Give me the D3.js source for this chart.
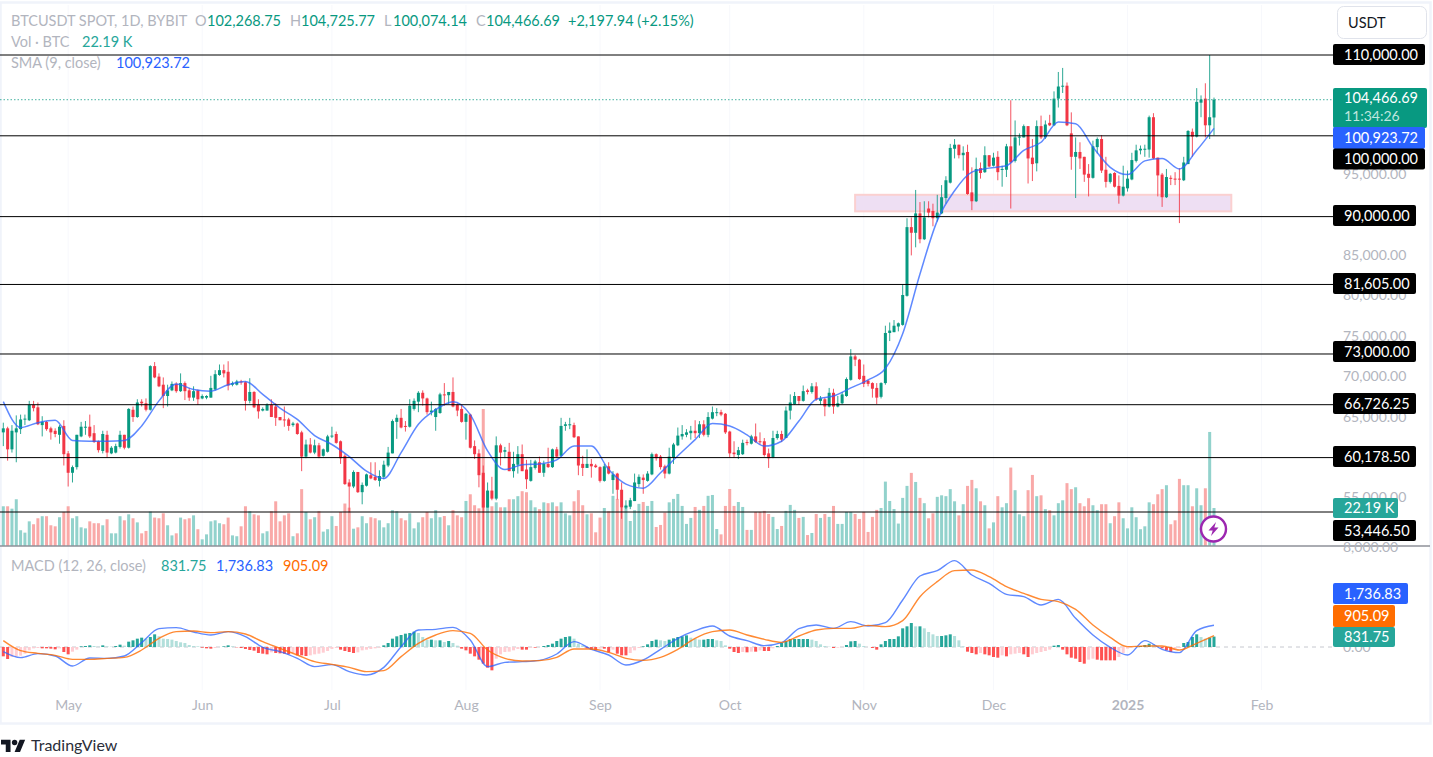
<!DOCTYPE html>
<html><head><meta charset="utf-8">
<script src="https://cdn.jsdelivr.net/npm/d3@7/dist/d3.min.js"></script>
<style>html,body{margin:0;padding:0;background:#fff;overflow:hidden}svg{display:block}text{font-family:Lato,"Open Sans",sans-serif}</style>
</head><body><svg id="c" width="1433" height="757"></svg>
<script>
// Daily candles from 2024-04-16: open, high, low, close (thousand USDT)
const firstDay = "2024-04-16";
const ohlc = [
[63.3,64.5,61.6,63.8],[63.8,64.0,59.8,61.2],[61.2,64.2,60.8,63.5],[63.3,65.4,59.6,63.8],[63.7,65.5,63.1,64.9],[64.9,65.5,64.2,65.0],[64.8,67.2,64.7,66.7],[66.7,67.2,65.9,66.3],[66.4,67.0,64.2,64.3],[64.2,65.3,62.8,64.6],
[64.6,64.7,63.5,63.7],[63.8,64.0,62.4,63.3],[63.5,63.8,62.7,63.1],[63.0,64.2,61.9,64.0],[64.1,64.8,59.2,60.6],[60.7,61.0,56.6,58.3],[58.3,59.2,57.1,59.0],[59.0,63.0,58.7,63.0],[62.8,64.6,62.7,64.0],[63.9,64.7,63.0,64.0],
[64.0,65.5,62.6,62.8],[63.2,64.2,62.0,62.1],[62.2,62.3,60.8,61.1],[61.0,63.5,60.7,63.1],[63.0,63.5,60.2,60.8],[60.7,61.6,60.6,61.4],[60.8,61.9,60.7,61.6],[61.5,63.5,61.3,63.0],[63.0,63.0,61.2,61.4],[61.4,66.3,61.3,66.2],
[66.1,66.5,64.6,65.2],[65.2,67.4,65.1,67.0],[67.1,67.4,66.5,66.9],[66.9,67.5,65.9,66.1],[66.1,71.6,66.0,71.5],[71.5,72.0,70.0,70.1],[70.2,70.6,68.9,69.0],[69.2,70.1,66.3,67.8],[67.8,69.2,66.5,68.5],[68.5,69.6,68.4,69.3],
[69.3,69.5,68.2,68.4],[68.4,70.6,68.3,69.4],[69.4,69.6,67.3,68.4],[68.5,68.8,67.2,67.6],[67.6,69.0,67.2,68.4],[68.5,68.6,66.7,67.4],[67.5,68.0,67.4,67.8],[67.6,67.9,67.4,67.8],[67.6,70.3,67.6,68.8],[68.6,71.0,68.5,70.5],
[70.4,71.7,70.3,71.0],[71.0,71.7,70.1,70.6],[70.8,72.1,68.5,69.1],[69.2,69.6,69.0,69.4],[69.2,69.8,69.1,69.6],[69.6,69.8,69.2,69.5],[69.5,69.6,66.0,67.2],[67.2,70.0,66.9,68.3],[68.3,68.4,66.3,66.4],[66.7,67.4,65.0,65.9],
[66.0,66.4,65.9,66.2],[66.0,66.9,66.0,66.7],[66.7,67.4,65.2,65.2],[66.5,66.9,64.1,65.1],[65.2,65.2,64.8,64.8],[64.9,66.5,64.0,64.8],[64.9,65.1,63.5,64.1],[64.2,64.6,64.0,64.4],[64.4,64.5,63.0,63.1],
[63.3,63.5,58.5,60.3],[60.3,62.4,60.1,61.8],[61.8,62.6,60.7,60.8],[60.8,62.4,60.6,61.7],[61.7,62.0,60.1,60.3],[60.4,61.3,60.3,61.2],[60.9,63.0,60.8,62.8],[62.8,64.0,62.6,62.9],[63.1,63.4,61.9,62.0],[62.2,62.3,59.4,60.1],
[60.4,60.6,56.8,56.9],[57.1,57.5,53.4,56.6],[56.6,58.6,56.4,58.4],[58.4,58.4,55.8,55.9],[55.9,57.1,54.4,56.8],[56.7,58.2,56.6,58.1],[58.0,59.6,57.5,57.6],[57.8,59.6,57.3,57.4],[57.3,58.6,56.6,57.9],[57.8,59.8,57.5,59.3],
[59.2,61.5,59.0,60.8],[60.7,64.9,60.7,64.7],[64.6,65.5,62.5,65.1],[65.1,66.2,63.8,63.9],[64.1,64.7,63.4,64.0],[64.0,67.4,63.9,66.6],[66.2,67.5,66.0,67.2],[67.1,68.4,65.8,68.2],[68.2,68.5,66.6,67.5],[67.5,67.6,65.5,65.8],
[65.8,67.1,65.4,66.0],[65.2,66.3,63.5,66.2],[65.7,68.2,65.6,68.0],[68.0,69.4,66.6,67.9],[67.9,68.3,66.8,68.3],[68.3,70.1,66.4,66.5],[66.7,66.9,65.3,66.0],[66.2,66.7,64.5,64.6],[64.6,65.7,62.4,65.6],[65.5,65.6,61.3,61.4],
[61.6,62.3,60.0,60.6],[60.7,61.2,56.5,58.0],[58.3,59.2,49.2,54.0],[54.0,57.1,54.0,56.1],[56.1,57.8,54.9,55.1],[55.1,62.8,54.9,61.7],[61.7,61.9,59.2,60.8],[60.9,61.5,60.1,61.1],[60.9,62.0,58.5,58.5],[58.5,60.9,57.7,59.4],
[59.3,61.6,58.2,60.6],[60.6,61.8,58.5,58.5],[58.7,59.9,56.3,57.5],[57.3,59.9,57.2,59.0],[58.9,59.9,58.7,59.7],[59.6,60.3,58.3,58.3],[58.3,59.8,57.8,59.4],[59.4,61.4,58.9,59.0],[59.0,61.3,58.9,61.2],[61.2,61.5,60.1,60.3],
[60.4,65.1,60.3,64.1],[64.1,64.6,63.5,64.3],[64.2,65.1,63.7,64.3],[64.2,64.5,62.6,62.7],[62.8,62.8,58.0,59.2],[59.4,60.4,57.9,58.9],[58.9,61.2,58.9,59.4],[59.4,60.0,57.7,59.1],[59.2,59.4,58.9,59.0],
[59.0,59.1,57.1,57.3],[57.3,59.4,57.2,59.1],[59.1,59.6,58.1,58.2],[57.4,58.5,55.7,58.1],[58.2,58.3,55.0,56.2],[56.2,57.1,52.6,54.0],[54.0,54.9,53.8,54.2],[54.1,55.2,53.8,54.9],[54.8,58.2,54.8,57.1],[56.9,58.1,56.5,57.8],
[57.7,58.1,55.7,57.4],[57.3,58.5,57.2,58.2],[58.1,60.8,58.0,60.6],[60.6,60.7,59.8,60.1],[60.3,60.5,58.7,59.0],[59.1,59.3,57.6,58.2],[58.2,61.4,58.1,60.3],[60.2,62.0,59.4,61.8],[61.7,63.9,61.6,62.9],[62.8,64.2,62.4,63.1],
[63.0,63.7,62.7,63.3],[63.2,64.1,62.4,63.5],[63.5,64.8,62.6,63.2],[63.2,64.7,62.6,64.3],[64.3,64.8,62.8,63.0],[63.0,65.8,62.7,65.2],[65.0,66.5,64.9,65.8],[65.7,66.3,65.3,65.8],[65.8,66.1,65.3,65.5],[65.6,65.7,63.1,63.3],
[63.4,63.5,60.2,60.7],[60.8,62.2,60.2,60.6],[60.5,61.5,60.0,61.1],[60.6,62.4,60.5,62.0],[62.1,62.4,61.7,62.0],[61.9,63.0,61.8,62.8],[62.8,64.4,62.0,62.1],[62.2,63.3,61.8,62.1],[62.2,62.6,60.3,60.5],[60.7,61.3,58.9,60.1],
[60.2,63.5,60.1,62.6],[62.6,63.5,62.4,63.1],[63.1,63.5,62.1,62.4],[62.6,66.5,62.6,66.0],[66.0,68.0,64.9,67.0],[66.8,68.3,66.7,67.8],[67.8,67.8,66.7,67.2],[67.2,69.1,67.1,68.4],[68.5,68.7,68.0,68.3],[68.3,69.4,68.1,69.0],
[69.0,69.5,67.2,67.4],[67.2,67.8,66.7,67.5],[67.4,67.6,65.3,66.5],[66.5,68.8,66.4,68.2],[68.2,68.7,65.6,66.5],[66.5,67.8,66.4,66.9],[66.9,68.3,66.8,68.0],[67.8,70.1,67.7,69.9],[69.8,73.6,69.7,72.7],[72.7,72.9,71.5,72.3],
[72.3,72.4,69.8,69.9],[70.3,71.7,68.9,69.3],[69.7,69.8,69.0,69.3],[69.4,69.5,67.6,68.7],[68.8,69.4,66.8,67.6],[67.7,69.5,67.5,69.4],[69.4,76.5,69.2,75.6],[75.6,76.9,74.6,75.9],[75.7,77.2,75.7,76.5],[76.4,76.9,75.8,76.8],
[76.6,81.6,76.5,80.3],[80.2,89.8,80.1,88.7],[88.7,89.9,85.2,88.0],[88.0,93.3,86.2,90.4],[90.4,91.8,86.7,87.2],[87.2,91.9,87.1,89.9],[91.0,91.9,89.9,90.5],[90.7,91.6,88.8,89.8],[89.8,92.7,89.4,90.5],[90.4,93.9,90.3,92.4],
[92.3,95.0,91.6,94.5],[94.2,99.0,94.1,98.5],[98.4,99.6,97.2,98.9],[98.9,98.9,97.2,97.6],[97.6,98.7,95.7,97.9],[98.0,98.9,92.7,92.8],[93.0,96.1,90.8,91.9],[91.9,97.3,91.8,95.9],[96.0,96.7,94.7,95.4],[95.5,98.7,95.4,97.6],
[97.6,97.6,96.1,96.2],[96.3,97.9,96.2,97.3],[97.4,98.1,94.5,95.5],[95.8,96.3,93.7,95.9],[95.8,99.0,94.9,98.7],[98.7,104.4,91.0,96.7],[96.9,101.9,96.7,99.8],[99.8,100.3,98.8,99.9],[99.8,101.4,99.8,101.2],[101.2,101.2,94.1,97.2],
[97.3,99.6,94.4,96.5],[96.6,101.9,95.6,101.2],[101.2,102.5,99.6,99.8],[99.8,101.9,99.6,101.4],[101.6,102.6,101.2,101.3],[101.3,105.5,101.2,104.6],[104.6,107.9,103.5,106.1],[106.1,108.4,105.3,106.2],[106.2,106.6,101.2,101.3],[100.3,102.9,95.8,97.4],
[97.4,99.8,92.3,98.0],[98.0,99.2,95.9,97.2],[97.4,97.4,94.3,95.2],[95.3,96.5,92.5,94.8],[94.8,99.4,94.7,98.7],[98.6,99.8,97.8,99.6],[99.6,100.1,95.4,95.7],[95.8,97.4,93.6,94.3],[94.3,95.4,94.1,95.3],[95.4,95.5,93.6,93.7],
[93.8,95.1,91.6,92.6],[92.6,96.3,92.5,93.7],[93.5,95.7,93.1,94.7],[94.6,97.9,94.5,97.0],[96.9,98.9,96.7,98.2],[98.2,98.8,97.7,98.4],[98.3,98.9,97.4,98.4],[98.3,102.5,97.3,102.3],[102.3,102.8,97.1,97.2],[97.3,97.3,92.5,95.1],
[95.2,95.4,91.2,92.4],[92.4,95.9,92.3,94.9],[94.8,95.1,93.9,94.7],[94.7,95.5,93.9,94.6],[94.7,96.0,89.2,94.6],[94.5,97.4,94.4,96.7],[96.5,100.7,96.5,100.6],[100.5,100.9,97.4,99.9],[99.9,105.9,99.8,104.2],[104.1,105.0,102.3,104.5],
[104.6,106.5,99.8,101.3],[101.3,110.0,99.6,102.3],[102.27,104.73,100.07,104.47]];
// Volume in thousand BTC, one per candle
const volumes = [
23.2,23.2,21.8,27.3,9.2,7.8,14.4,12.7,16.2,17.4,17.4,12.1,11.5,16.8,19.9,23.2,16.2,17.4,10.9,10.3,14.4,13.3,13.3,12.1,15.6,7.4,7.4,17.4,15.0,18.5,16.2,13.8,7.4,8.8,20.1,16.6,16.2,19.1,12.1,6.2,7.4,16.6,15.6,16.2,17.9,9.8,3.9,6.8,14.4,15.0,13.3,12.7,16.6,6.2,5.7,11.5,23.2,20.3,18.5,17.9,7.4,8.6,20.3,26.1,14.4,17.9,19.1,5.7,7.4,
33.2,19.9,15.6,16.8,20.3,8.4,9.8,17.4,11.7,19.9,24.8,22.4,10.1,10.9,17.4,13.3,16.8,16.2,15.0,10.9,13.3,20.9,20.3,16.2,15.0,19.1,10.3,13.8,16.8,19.9,16.2,20.9,16.8,17.5,12.1,20.9,17.9,16.8,26.3,30.2,23.8,22.0,80,23.8,23.2,25.5,22.6,22.6,27.3,27.3,29.1,32.0,31.4,26.7,22.6,21.5,25.5,25.0,25.5,23.2,25.5,19.1,17.9,26.1,32.6,23.8,18.5,19.1,8.0,
16.6,22.2,20.3,29.3,27.5,22.4,24.0,14.6,20.9,24.6,25.7,23.4,26.3,11.1,12.3,19.5,25.5,27.5,30.4,23.4,12.9,16.4,22.8,21.1,23.4,29.3,29.8,9.9,6.8,23.4,33.3,23.4,25.7,22.8,9.4,9.4,19.9,19.9,20.5,18.7,17.0,9.9,11.7,20.5,24.0,21.1,16.4,17.0,6.4,7.6,18.7,16.4,18.7,17.0,23.4,12.9,12.9,19.9,19.9,18.7,15.8,19.9,8.2,17.0,21.1,22.2,37.6,26.3,21.6,13.1,
28.1,35.1,42.7,37.4,28.1,25.0,16.2,19.1,28.7,29.6,29.1,33.2,26.1,17.9,24.4,35.1,38.6,33.7,26.1,23.8,10.3,13.8,29.1,22.6,25.0,45.8,32.6,18.5,17.4,32.6,41.5,29.1,29.6,21.5,20.9,17.9,25.0,26.7,36.7,33.2,34.3,25.0,23.2,27.9,23.8,20.9,24.4,24.4,13.3,17.4,25.5,16.2,10.3,22.6,16.8,9.8,11.5,25.5,24.4,30.2,33.2,35.5,12.7,15.0,39.2,35.5,35.5,23.2,33.7,23.8,33.7,66.6,22.19];
// Indicator readings taken every 4th candle
const sampleStep = 4;
const smaValues = [67.1,63.9,64.5,64.8,62.3,62.2,62.2,62.3,64.1,67.2,69.3,68.6,68.4,69.2,69.6,68.0,66.3,64.9,62.9,61.8,60.3,58.5,57.6,60.8,64.3,66.1,67.1,65.5,61.0,58.7,59.3,59.4,59.9,61.6,61.6,58.7,56.9,56.4,58.3,60.4,62.4,64.4,64.1,63.0,61.6,62.2,64.7,67.4,67.8,68.8,69.8,71.2,75.5,82.9,89.5,93.2,95.5,96.0,96.3,98.2,99.2,101.7,101.5,98.6,96.1,95.2,96.9,97.2,95.9,98.2,100.92372];
const macdValues = [-373,-853,-533,-720,-1520,-880,-907,-720,347,1467,1547,1200,960,1227,827,-27,-373,-907,-1573,-1413,-1973,-2240,-1627,27,1360,1413,1573,560,-1573,-1227,-1173,-1067,-560,427,-187,-640,-1440,-1040,-187,693,1307,1680,880,507,107,347,1467,1760,1493,2027,1680,1947,3760,5680,6107,6907,5760,5093,4213,4027,3360,3813,2293,960,-27,-640,507,-187,-453,1307,1736.83];
const signalValues = [507,-293,-507,-667,-987,-987,-907,-827,-240,693,1227,1280,1147,1227,1040,427,-107,-640,-1173,-1387,-1627,-1973,-1893,-773,293,960,1307,1093,-240,-907,-1120,-1093,-827,-160,-160,-427,-907,-1067,-827,-187,693,1227,1360,960,613,373,880,1360,1493,1493,1733,1627,2107,4027,5227,6107,6160,5627,4827,4293,3813,3627,3013,1760,773,27,80,80,-240,293,905.09];
const histValues = [
-747,-960,-800,-747,-693,-533,-267,-107,-80,-107,-107,-133,-187,-107,-400,-587,-373,-213,53,80,133,80,27,133,53,27,80,187,107,427,533,667,747,667,800,1013,853,667,640,587,480,373,320,160,80,53,-53,-107,-133,-80,0,53,133,53,-27,-80,-160,-240,-293,-480,-533,-587,-427,-480,-507,-533,-587,-480,-667,-667,-720,-667,-587,-533,-453,-320,-160,-80,-213,-320,-400,-480,-427,-267,-213,-160,-107,-53,133,320,667,853,960,1067,1120,1227,1120,800,587,587,533,533,400,480,
320,107,-133,-267,-533,-747,-1013,-1333,-1653,-1867,-933,-587,-400,-373,-267,-160,-213,-213,-53,-53,0,80,160,267,480,667,800,853,667,267,133,-107,-213,-267,-133,-133,-427,-213,-533,-667,-667,-480,-267,-80,53,213,480,587,533,480,587,693,800,853,933,747,667,587,587,640,640,533,480,133,-133,-400,-480,-400,-427,-373,-373,-267,-320,-320,-107,80,320,480,640,640,640,640,640,587,480,213,80,27,-80,-53,0,160,453,480,267,80,0,-80,-213,
213,480,640,640,853,1493,1653,1920,1653,1653,1493,1200,1013,880,880,933,1013,880,533,53,-373,-480,-587,-480,-587,-667,-800,-853,-667,-747,-587,-533,-480,-587,-800,-587,-480,-400,-320,-213,107,160,-213,-587,-853,-933,-1200,-1333,-1013,-933,-1013,-1067,-1067,-1067,-1067,-800,-480,-133,-53,27,80,160,267,213,80,-107,-267,-400,-160,-80,320,400,800,1013,800,667,747,831.75];
// Horizontal level drawings and pink zone
const levels = [110000,100000,90000,81605,73000,66726.25,60178.5,53446.5];
const zonePrices = [90650,92700];
const zoneDates = ["2024-10-30","2025-01-25"];
const lastPrice = 104466.69;
// Axis text
const priceTicks = [95000,85000,80000,75000,70000,65000,55000];
const macdTicks = [8000,0];
const monthTicks = ["2024-05-01","2024-06-01","2024-07-01","2024-08-01","2024-09-01","2024-10-01","2024-11-01","2024-12-01","2025-01-01","2025-02-01"];
const monthLabels = ["May","Jun","Jul","Aug","Sep","Oct","Nov","Dec","2025","Feb"];

const UP="#089981",DN="#F23645",BLUE="#2962FF",ORANGE="#FF6D00",TEAL="#26A69A",GREY="#B2B5BE";
const fmt=d3.format(",.2f");
const DAY=864e5, t0=Date.parse(firstDay);
const dateAt=i=>new Date(t0+i*DAY);
const svg=d3.select("#c");
const x=d3.scaleUtc().domain([dateAt(0),dateAt(280)]).range([3.3,1214]);
const y=d3.scaleLinear().domain([53446.5,110000]).range([512,55]);
const yVol=d3.scaleLinear().domain([0,80]).range([546,409]);
const yMacd=d3.scaleLinear().domain([0,8000]).range([647,547]);
const candles=ohlc.map((d,i)=>({i,o:d[0]*1e3,h:d[1]*1e3,l:d[2]*1e3,c:d[3]*1e3,v:volumes[i],m:histValues[i],up:d[3]>=d[0]}));

// frame
svg.append("rect").attr("x",.5).attr("y",2.5).attr("width",1430).attr("height",721).attr("fill","#fff").attr("stroke","#F0F3FA").attr("stroke-width",2.5);

// grid
svg.append("g").selectAll("line").data(monthTicks).join("line")
 .attr("x1",d=>x(new Date(d))).attr("x2",d=>x(new Date(d))).attr("y1",5).attr("y2",690).attr("stroke","#F7F8FC");

// volume
svg.append("g").selectAll("rect").data(candles).join("rect")
 .attr("x",d=>x(dateAt(d.i))-1.5).attr("width",3).attr("y",d=>yVol(d.v)).attr("height",d=>546-yVol(d.v))
 .attr("fill",d=>d.up?"#92D2CC":"#F9A9A8");

// zone
svg.append("rect").attr("x",x(new Date(zoneDates[0]))).attr("width",x(new Date(zoneDates[1]))-x(new Date(zoneDates[0])))
 .attr("y",y(zonePrices[1])).attr("height",y(zonePrices[0])-y(zonePrices[1]))
 .attr("fill","#EEDFF3").attr("stroke","#FBD0D0").attr("stroke-width",2);

// candles
const cg=svg.append("g");
cg.selectAll("line").data(candles).join("line")
 .attr("x1",d=>x(dateAt(d.i))).attr("x2",d=>x(dateAt(d.i))).attr("y1",d=>y(d.h)).attr("y2",d=>y(d.l))
 .attr("stroke",d=>d.up?UP:DN).attr("stroke-width",1).attr("stroke-opacity",.85);
cg.selectAll("rect").data(candles).join("rect")
 .attr("x",d=>x(dateAt(d.i))-1.5).attr("width",3)
 .attr("y",d=>y(Math.max(d.o,d.c))).attr("height",d=>Math.max(1,Math.abs(y(d.o)-y(d.c))))
 .attr("fill",d=>d.up?UP:DN);

// SMA
const curve=d3.line().x((d,i)=>x(dateAt(i*sampleStep))).curve(d3.curveMonotoneX);
svg.append("path").attr("d",curve.y(d=>y(d*1e3))(smaValues)).attr("fill","none").attr("stroke",BLUE).attr("stroke-width",1.5).attr("stroke-opacity",.75);

// levels on top
svg.append("g").selectAll("line").data(levels).join("line")
 .attr("x1",0).attr("x2",1333).attr("y1",d=>y(d)).attr("y2",d=>y(d)).attr("stroke","#000").attr("stroke-width",1);
svg.append("line").attr("x1",0).attr("x2",1333).attr("y1",y(lastPrice)).attr("y2",y(lastPrice))
 .attr("stroke",UP).attr("stroke-opacity",.75).attr("stroke-dasharray","1.5 2");

// pane separator
svg.append("line").attr("x1",0).attr("x2",1430).attr("y1",546).attr("y2",546).attr("stroke","#8E9199").attr("stroke-width",1.4);

// MACD
svg.append("line").attr("x1",0).attr("x2",1333).attr("y1",yMacd(0)).attr("y2",yMacd(0)).attr("stroke","#C6C8CF").attr("stroke-dasharray","4 4");
svg.append("g").selectAll("rect").data(candles).join("rect")
 .attr("x",d=>x(dateAt(d.i))-1.5).attr("width",3)
 .attr("y",d=>Math.min(yMacd(d.m),yMacd(0))).attr("height",d=>Math.abs(yMacd(d.m)-yMacd(0)))
 .attr("fill",(d,i)=>{const p=i?candles[i-1].m:d.m; return d.m>=0?(d.m>=p?TEAL:"#B2DFDB"):(d.m<=p?"#FF5252":"#FFCDD2");});
const mline=d3.line().x((d,i)=>x(dateAt(i*sampleStep))).y(d=>yMacd(d)).curve(d3.curveMonotoneX);
svg.append("path").attr("d",mline(macdValues)).attr("fill","none").attr("stroke",BLUE).attr("stroke-width",1.4).attr("stroke-opacity",.75);
svg.append("path").attr("d",mline(signalValues)).attr("fill","none").attr("stroke",ORANGE).attr("stroke-width",1.4).attr("stroke-opacity",.8);

// price axis ticks via d3 axes
const axP=svg.append("g").attr("transform","translate(1333,-2)").call(d3.axisRight(y).tickValues(priceTicks).tickSize(0).tickPadding(10).tickFormat(fmt));
const axM=svg.append("g").attr("transform","translate(1333,0)").call(d3.axisRight(yMacd).tickValues(macdTicks).tickSize(0).tickPadding(10).tickFormat(fmt));
[axP,axM].forEach(a=>{a.select(".domain").remove();a.selectAll("text").attr("fill",GREY).style("font-size","14px").style("font-family","Lato");});

// time axis
const timeScaleTicks=monthTicks.map(d=>new Date(d));
const axT=svg.append("g").attr("transform","translate(0,698)").call(d3.axisBottom(x).tickValues(timeScaleTicks).tickSize(0).tickPadding(2).tickFormat((d,i)=>monthLabels[i]));
axT.select(".domain").remove();
axT.selectAll("text").attr("fill",GREY).style("font-size","14px").style("font-family","Lato").style("font-weight",(d,i)=>monthLabels[i]==="2025"?"700":"400");

// price labels
function tag(py,h,w,fill,txt,col){
 svg.append("rect").attr("x",1333).attr("y",py-h/2).attr("width",w).attr("height",h).attr("rx",2).attr("fill",fill);
 svg.append("text").attr("x",1344).attr("y",py+5).attr("fill",col||"#fff").style("font-size","14.5px").text(txt);
}
svg.append("rect").attr("x",1333).attr("y",88).attr("width",94).attr("height",40).attr("rx",2).attr("fill",UP);
svg.append("text").attr("x",1344).attr("y",103).attr("fill","#fff").style("font-size","14.5px").text(fmt(lastPrice));
svg.append("text").attr("x",1344).attr("y",121).attr("fill","#BFE6DF").style("font-size","14px").text("11:34:26");
tag(138,22,92,BLUE,fmt(smaValues[smaValues.length-1]*1e3));
[[110000,54.5,92],[100000,159,92],[90000,215.5,83],[81605,283.5,83],[73000,351.5,83],[66726.25,403.5,83],[60178.5,456.5,83],[53446.5,530.5,83]]
 .forEach(d=>tag(d[1],21,d[2],"#000",fmt(d[0])));
tag(508,20,65,TEAL,"22.19 K");
tag(593.5,21,75,BLUE,fmt(macdValues[macdValues.length-1]));
tag(616,22,62,ORANGE,fmt(signalValues[signalValues.length-1]));
tag(637,20,62,TEAL,"831.75");

// USDT button
svg.append("rect").attr("x",1337.5).attr("y",6.5).attr("width",89).attr("height",32).attr("rx",6).attr("fill","#fff").attr("stroke","#E0E3EB");
svg.append("text").attr("x",1348).attr("y",27.5).attr("fill","#131722").style("font-size","14.5px").text("USDT");

// legends
function T(px,py,txt,col,size){return svg.append("text").attr("x",px).attr("y",py).attr("fill",col).style("font-size",(size||14.5)+"px").text(txt);}
T(11,26,"BTCUSDT SPOT, 1D, BYBIT",GREY);
[["O",195,"102,268.75",207],["H",290,"104,725.77",301],["L",384,"100,074.14",393],["C",476,"104,466.69",486]].forEach(r=>{T(r[1],26,r[0],GREY);T(r[3],26,r[2],UP);});
T(568,26,"+2,197.94 (+2.15%)",UP);
T(11,47,"Vol · BTC",GREY);T(82,47,"22.19 K",TEAL);
T(11,68,"SMA (9, close)",GREY);T(116,68,"100,923.72",BLUE);
T(11,571,"MACD (12, 26, close)",GREY);T(161,571,"831.75",TEAL);T(216,571,"1,736.83",BLUE);T(283,571,"905.09",ORANGE);

// lightning badge
const b=svg.append("g").attr("transform","translate(1213.5,529)");
b.append("circle").attr("r",12.5).attr("fill","#fff").attr("stroke","#9C27B0").attr("stroke-width",2.4);
b.append("path").attr("d","M2.5,-7 L-5,1.5 L-0.8,1.5 L-2.5,7 L5,-1.5 L0.8,-1.5 Z").attr("fill","#9C27B0");

// footer logo
const lg=svg.append("g").attr("transform","translate(1,737) scale(.68)").attr("fill","#131722");
lg.append("path").attr("d","M14 22H7V11H0V4h14v18zM28 22h-8l7.5-18h8L28 22z");
lg.append("circle").attr("cx",20).attr("cy",8).attr("r",4);
svg.append("text").attr("x",31).attr("y",751).attr("fill","#2A2E39").style("font-size","16px").text("TradingView");
</script></body></html>
